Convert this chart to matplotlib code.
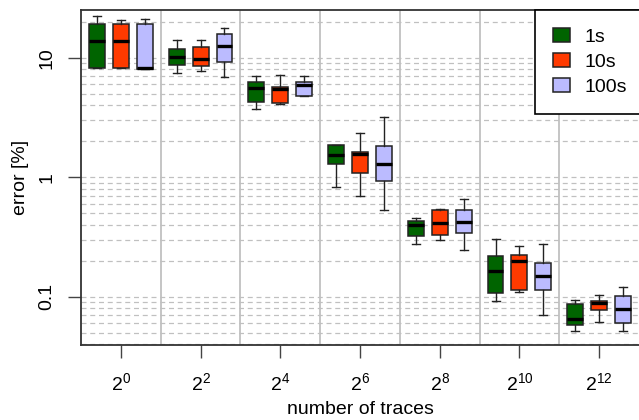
import matplotlib
matplotlib.use("Agg")
import matplotlib.pyplot as plt
from matplotlib.ticker import FixedLocator, NullFormatter
import numpy as np

plt.rcParams['font.family'] = ['Liberation Sans', 'DejaVu Sans']
plt.rcParams['mathtext.fontset'] = 'custom'
plt.rcParams['mathtext.rm'] = 'Liberation Sans'
plt.rcParams['mathtext.it'] = 'Liberation Sans:italic'

# x groups: number of traces
exponents = [0, 2, 4, 6, 8, 10, 12]
tick_labels = [r'$\mathregular{2^{%d}}$' % e for e in exponents]

series_names = ['1s', '10s', '100s']
series_colors = ['#006400', '#ff3a00', '#bbbbff']

# box statistics per group (error in %)
lo_1s = [8.3, 7.54, 3.76, 0.826, 0.274, 0.092, 0.0518]
q1_1s = [8.3, 8.69, 4.26, 1.29, 0.322, 0.108, 0.0578]
med_1s = [13.9, 10.26, 5.64, 1.55, 0.401, 0.163, 0.0655]
q3_1s = [19.3, 11.97, 6.25, 1.88, 0.428, 0.218, 0.0862]
hi_1s = [22.4, 14.1, 7.03, 1.88, 0.456, 0.305, 0.0937]

lo_10s = [8.2, 7.74, 4.09, 0.70, 0.298, 0.109, 0.0617]
q1_10s = [8.2, 8.62, 4.2, 1.09, 0.330, 0.1135, 0.0767]
med_10s = [13.9, 9.75, 5.46, 1.58, 0.416, 0.200, 0.0884]
q3_10s = [19.2, 12.4, 5.68, 1.63, 0.532, 0.223, 0.0918]
hi_10s = [20.8, 14.2, 7.16, 2.37, 0.542, 0.267, 0.103]

lo_100s = [8.1, 6.88, 4.77, 0.535, 0.244, 0.0702, 0.0515]
q1_100s = [8.1, 9.2, 4.77, 0.932, 0.34, 0.113, 0.0605]
med_100s = [8.3, 12.5, 5.97, 1.30, 0.425, 0.150, 0.0793]
q3_100s = [19.4, 15.8, 6.33, 1.83, 0.532, 0.192, 0.1007]
hi_100s = [21.2, 17.7, 7.1, 3.18, 0.662, 0.276, 0.121]

series = [
    (lo_1s, q1_1s, med_1s, q3_1s, hi_1s),
    (lo_10s, q1_10s, med_10s, q3_10s, hi_10s),
    (lo_100s, q1_100s, med_100s, q3_100s, hi_100s),
]

fig = plt.figure(figsize=(6.39, 4.2), dpi=100)
ax = fig.add_axes([81 / 639, 1 - 345 / 420, 558 / 639, 335 / 420])

x = np.arange(len(exponents))
offsets = [-0.3, 0.0, 0.3]

handles = []
for (lo, q1, med, q3, hi), color, off, name in zip(series, series_colors, offsets, series_names):
    stats = [dict(whislo=lo[i], q1=q1[i], med=med[i], q3=q3[i], whishi=hi[i], fliers=[])
             for i in range(len(x))]
    bp = ax.bxp(stats, positions=x + off, widths=0.2, capwidths=0.1,
                patch_artist=True, showfliers=False, manage_ticks=False,
                boxprops=dict(facecolor=color, edgecolor='#222222', linewidth=1.1),
                medianprops=dict(color='black', linewidth=2.4, solid_capstyle='butt'),
                whiskerprops=dict(color='#222222', linewidth=1.0),
                capprops=dict(color='#222222', linewidth=1.0))
    handles.append(bp['boxes'][0])

ax.set_yscale('log')
ax.set_ylim(0.0394, 25.2)
ax.set_xlim(-0.5, 6.5)

ax.set_yticks([0.1, 1, 10])
ax.set_yticklabels(['0.1', '1', '10'], rotation=90, va='center')
minor_y = [m * 10.0 ** k for k in range(-2, 2) for m in range(2, 10)]
ax.yaxis.set_minor_locator(FixedLocator(minor_y))
ax.yaxis.set_minor_formatter(NullFormatter())

ax.set_xticks(x)
ax.set_xticklabels(tick_labels)
ax.xaxis.set_minor_locator(FixedLocator(x[:-1] + 0.5))

ax.tick_params(axis='both', which='major', length=9.5, width=1.0, color='#444444',
               labelsize=14, direction='out')
ax.tick_params(axis='y', which='major', pad=9)
ax.tick_params(axis='x', which='major', pad=10)
ax.tick_params(which='minor', length=0)

ax.set_axisbelow(True)
ax.grid(axis='y', which='both', linestyle=(0, (4, 3)), color='#c0c0c0', linewidth=0.9)
ax.grid(axis='x', which='minor', linestyle='-', color='#bbbbbb', linewidth=1.2)

for side in ['left', 'bottom', 'top']:
    ax.spines[side].set_color('#333333')
    ax.spines[side].set_linewidth(1.3)
ax.spines['right'].set_visible(False)

ax.set_ylabel('error [%]', fontsize=14, labelpad=7)
ax.set_xlabel('number of traces', fontsize=14, labelpad=5)

leg = ax.legend(handles, series_names, loc='upper left', bbox_to_anchor=(0.8136, 1.0),
                borderaxespad=0, fontsize=14, frameon=True, fancybox=False,
                edgecolor='black', framealpha=1, handlelength=0.85, handleheight=0.72,
                handletextpad=0.75, labelspacing=0.36, borderpad=0.95)
leg.get_frame().set_linewidth(1.2)

fig.savefig('out.png', dpi=100)
